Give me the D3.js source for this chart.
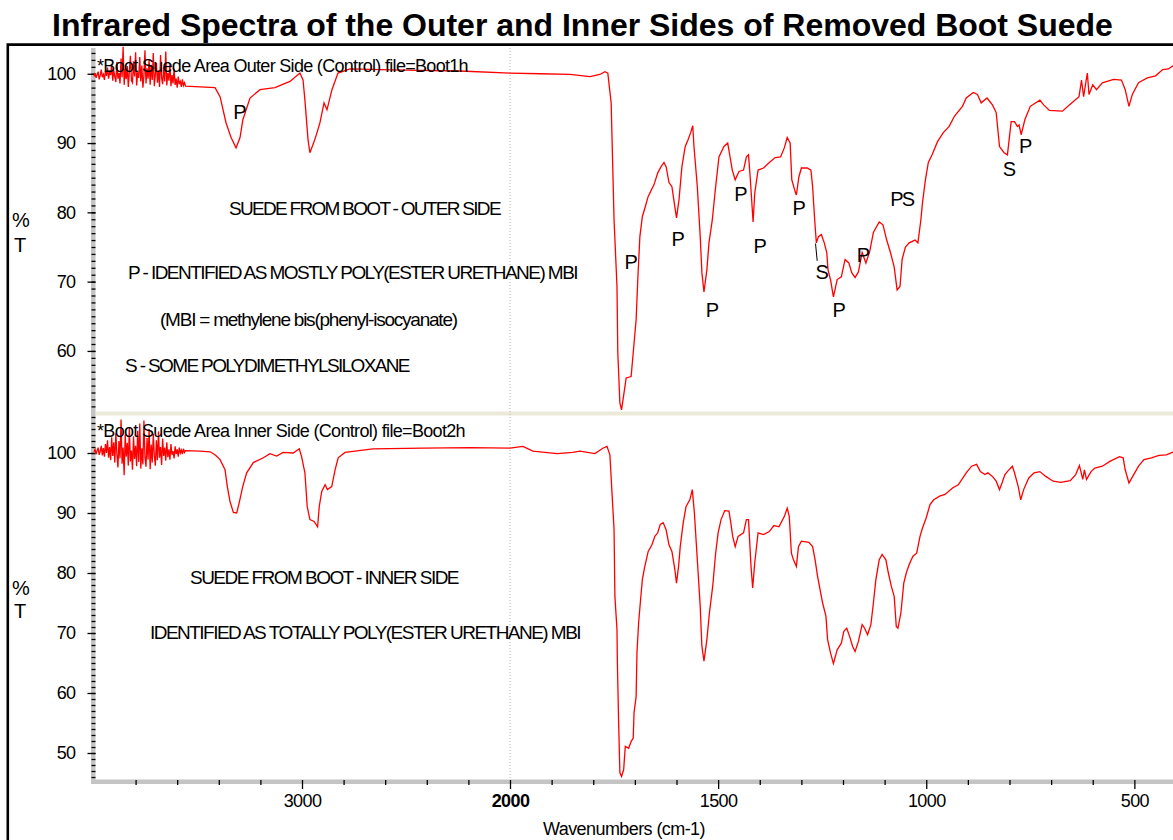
<!DOCTYPE html>
<html>
<head>
  <meta charset="utf-8" />
  <title>Infrared Spectra of Boot Suede</title>
  <script src="https://d3js.org/d3.v7.min.js"></script>
  <style>
    body { margin: 0; background: #fff; }
    svg { display: block; font-family: "Liberation Sans", Arial, sans-serif; }
    .axis path.domain { display: none; }
    .axis line { stroke: #000; stroke-width: 1.3; }
    .axis text { fill: #000; font-size: 18px; letter-spacing: -0.6px; }
  </style>
</head>
<body>
<script>
  // ---- data (wavenumbers in cm-1, %T) ----
  // noisy stretch at the high-wavenumber end, sampled every 5 cm-1
  const noiseWn = [4000, 3995, 3990, 3985, 3980, 3975, 3970, 3965, 3960, 3955,
    3950, 3945, 3940, 3935, 3930, 3925, 3920, 3915, 3910, 3905,
    3900, 3895, 3890, 3885, 3880, 3875, 3870, 3865, 3860, 3855,
    3850, 3845, 3840, 3835, 3830, 3825, 3820, 3815, 3810, 3805,
    3800, 3795, 3790, 3785, 3780, 3775, 3770, 3765, 3760, 3755,
    3750, 3745, 3740, 3735, 3730, 3725, 3720, 3715, 3710, 3705,
    3700, 3695, 3690, 3685, 3680, 3675, 3670, 3665, 3660, 3655,
    3650, 3645, 3640, 3635, 3630, 3625, 3620, 3615, 3610, 3605,
    3600, 3595, 3590, 3585, 3580, 3575, 3570, 3565, 3560];
  const outerNoiseT = [99.6, 100.1, 99.4, 99.9, 100.3, 99.2, 99.8, 100.6, 99.5, 99.9,
    99.1, 100.4, 99.7, 100.9, 99.3, 100.2, 99.8, 101.4, 99.0, 100.5,
    99.6, 98.8, 101.7, 99.3, 100.1, 98.6, 102.2, 99.5, 103.9, 98.4,
    100.7, 99.2, 101.1, 98.1, 100.4, 102.6, 99.0, 98.7, 101.8, 99.6,
    103.1, 98.3, 100.2, 99.4, 102.4, 98.9, 101.2, 98.0, 99.7, 103.4,
    98.6, 100.8, 99.3, 102.0, 98.4, 101.3, 99.1, 103.0, 98.2, 99.9,
    101.6, 98.7, 100.5, 98.1, 102.7, 99.4, 98.5, 101.0, 98.9, 103.2,
    98.3, 100.1, 99.0, 101.4, 98.2, 99.8, 98.6, 100.7, 98.4, 99.3,
    98.0, 99.6, 98.5, 98.9, 98.1, 99.2, 98.3, 98.7, 98.2];
  const innerNoiseT = [100.2, 100.6, 99.8, 100.4, 100.9, 99.7, 100.3, 101.2, 99.6, 100.8,
    99.4, 101.5, 100.0, 102.1, 99.2, 101.0, 98.8, 102.6, 99.5, 101.8,
    98.4, 103.3, 99.9, 97.6, 102.0, 99.1, 105.6, 98.2, 100.9, 96.3,
    103.1, 99.4, 101.7, 97.9, 104.3, 98.6, 100.4, 97.2, 102.8, 99.0,
    101.2, 97.8, 103.7, 98.5, 104.9, 97.4, 100.8, 98.1, 105.4, 99.3,
    97.7, 102.5, 98.9, 104.0, 97.3, 101.4, 98.4, 103.2, 99.6, 97.9,
    102.1, 98.8, 103.6, 99.2, 101.0, 98.0, 102.4, 99.5, 100.9, 98.7,
    101.8, 99.3, 100.6, 98.9, 101.5, 99.7, 100.3, 99.1, 101.1, 99.8,
    100.6, 99.4, 100.9, 100.0, 100.5, 99.8, 100.7, 100.1, 100.4];

  const outerWn = [3490, 3418, 3394, 3365, 3341, 3317, 3298, 3284, 3250, 3202,
    3130, 3058, 3010, 2995, 2986, 2971, 2962, 2947, 2933, 2914,
    2894, 2880, 2856, 2827, 2769, 2625, 2433, 2240, 2000, 1928,
    1856, 1808, 1784, 1772, 1765, 1757, 1750, 1743, 1741, 1736,
    1732, 1724, 1721, 1709, 1704, 1697, 1693, 1688, 1682, 1675,
    1668, 1654, 1645, 1637, 1630, 1625, 1618, 1611, 1604, 1600,
    1594, 1587, 1579, 1572, 1566, 1561, 1558, 1550, 1543, 1539,
    1534, 1527, 1522, 1514, 1506, 1498, 1486, 1477, 1473, 1466,
    1459, 1450, 1439, 1432, 1427, 1423, 1416, 1412, 1404, 1391,
    1377, 1363, 1350, 1341, 1334, 1327, 1323, 1315, 1312, 1306,
    1300, 1286, 1277, 1273, 1268, 1264, 1259, 1252, 1245, 1239,
    1236, 1230, 1223, 1214, 1204, 1195, 1186, 1179, 1171, 1163,
    1154, 1145, 1136, 1127, 1113, 1104, 1095, 1086, 1077, 1070,
    1063, 1058, 1050, 1041, 1027, 1020, 1013, 1009, 1002, 995,
    986, 973, 959, 945, 932, 913, 904, 887, 877, 868,
    854, 841, 832, 824, 813, 805, 796, 788, 781, 777,
    772, 763, 750, 727, 718, 704, 673, 650, 633, 627,
    622, 613, 609, 600, 591, 577, 550, 531, 522, 513,
    505, 490, 469, 449, 432, 418, 409, 400];
  const outerT = [98.1, 98.0, 96.7, 92.9, 90.8, 89.3, 90.8, 93.4, 96.5, 97.7,
    98.0, 98.9, 100.1, 99.1, 96.2, 90.5, 88.6, 89.8, 91.0, 92.9,
    95.8, 94.8, 97.7, 100.1, 100.7, 100.6, 100.5, 100.4, 100.1, 100.0,
    99.9, 99.6, 99.9, 100.3, 100.1, 95.8, 78.9, 69.3, 59.7, 52.5,
    51.5, 54.8, 56.1, 56.3, 59.7, 64.5, 70.3, 76.5, 79.4, 80.8,
    82.3, 84.0, 85.7, 86.6, 87.2, 86.6, 84.3, 83.7, 80.8, 79.2,
    81.8, 86.6, 89.5, 90.5, 91.5, 92.5, 89.5, 83.7, 76.5, 71.3,
    68.5, 71.7, 75.6, 78.9, 83.7, 88.0, 89.5, 90.0, 88.6, 86.1,
    84.7, 85.9, 86.1, 88.0, 88.3, 85.1, 78.6, 82.8, 86.1, 86.4,
    87.2, 87.9, 88.0, 89.3, 90.8, 90.0, 84.7, 83.0, 82.5, 85.1,
    86.4, 86.4, 86.1, 83.7, 78.9, 75.6, 76.5, 76.8, 75.6, 74.2,
    71.7, 70.3, 67.8, 70.3, 70.7, 73.2, 72.7, 71.3, 70.6, 71.4,
    74.2, 72.7, 74.3, 77.1, 78.6, 78.2, 76.0, 74.2, 72.1, 68.8,
    69.3, 73.2, 75.0, 75.6, 76.0, 75.6, 78.9, 81.4, 84.7, 87.2,
    88.3, 90.2, 91.5, 92.4, 93.9, 95.3, 96.5, 97.3, 97.0, 95.8,
    96.5, 95.5, 94.4, 89.5, 88.6, 88.3, 93.1, 93.1, 92.4, 92.6,
    91.2, 93.4, 95.3, 96.2, 95.5, 94.7, 94.6, 95.8, 96.7, 99.1,
    96.7, 100.1, 97.0, 98.4, 97.7, 98.7, 99.2, 99.1, 97.7, 95.3,
    97.0, 98.7, 99.4, 99.7, 100.6, 100.7, 101.1, 101.0];

  const innerWn = [3490, 3442, 3418, 3394, 3370, 3359, 3346, 3330, 3314, 3302,
    3285, 3266, 3234, 3186, 3154, 3122, 3091, 3042, 3013, 3002,
    2986, 2975, 2962, 2942, 2925, 2917, 2905, 2889, 2878, 2857,
    2841, 2826, 2793, 2659, 2418, 2192, 2000, 1969, 1945, 1887,
    1849, 1832, 1796, 1777, 1767, 1760, 1755, 1750, 1748, 1743,
    1742, 1739, 1736, 1732, 1727, 1723, 1715, 1709, 1704, 1702,
    1697, 1695, 1691, 1686, 1682, 1677, 1668, 1659, 1652, 1645,
    1639, 1632, 1625, 1618, 1611, 1604, 1600, 1595, 1591, 1584,
    1577, 1568, 1562, 1557, 1550, 1543, 1539, 1534, 1527, 1521,
    1513, 1506, 1500, 1493, 1484, 1474, 1470, 1465, 1459, 1452,
    1439, 1432, 1427, 1421, 1417, 1412, 1404, 1391, 1377, 1366,
    1354, 1341, 1334, 1329, 1324, 1319, 1312, 1307, 1300, 1282,
    1273, 1267, 1261, 1255, 1249, 1241, 1237, 1230, 1223, 1214,
    1204, 1198, 1191, 1184, 1177, 1171, 1163, 1154, 1148, 1141,
    1133, 1127, 1121, 1113, 1106, 1097, 1091, 1084, 1077, 1072,
    1068, 1061, 1054, 1048, 1041, 1032, 1023, 1015, 1009, 1000,
    991, 982, 968, 955, 936, 923, 904, 891, 879, 870,
    859, 852, 841, 832, 824, 818, 811, 800, 793, 788,
    779, 773, 766, 754, 741, 727, 713, 695, 677, 654,
    641, 632, 624, 620, 615, 604, 595, 577, 559, 536,
    527, 522, 513, 504, 490, 477, 459, 441, 423, 409,
    400];
  const innerT = [100.3, 100.2, 99.7, 98.9, 97.2, 94.4, 91.9, 90.1, 90.0, 91.7,
    94.4, 96.7, 98.4, 99.2, 99.9, 99.5, 100.1, 100.0, 100.7, 99.4,
    96.7, 91.1, 88.9, 88.6, 87.7, 91.1, 93.6, 94.7, 93.9, 94.4,
    97.2, 99.2, 100.1, 100.7, 100.8, 100.9, 100.8, 101.1, 100.3, 99.9,
    100.1, 100.3, 99.9, 100.8, 101.1, 99.7, 93.4, 87.2, 76.1, 70.6,
    65.0, 55.0, 46.7, 46.1, 47.2, 51.1, 50.8, 51.9, 52.5, 56.7,
    59.4, 66.7, 71.7, 75.8, 78.9, 80.8, 83.6, 84.7, 86.1, 86.7,
    88.1, 88.4, 87.2, 84.7, 83.6, 80.6, 78.3, 81.1, 84.4, 88.3,
    91.1, 92.2, 93.9, 90.0, 82.2, 74.4, 67.8, 65.3, 68.9, 73.3,
    77.8, 83.3, 86.7, 88.9, 90.4, 90.3, 88.6, 86.1, 84.4, 86.1,
    86.7, 88.9, 88.9, 81.1, 77.5, 81.7, 86.7, 86.4, 86.9, 87.9,
    87.7, 89.4, 90.8, 89.4, 83.3, 82.2, 81.1, 84.4, 85.3, 85.1,
    84.4, 82.2, 79.4, 77.2, 75.0, 72.8, 68.9, 66.7, 64.9, 67.2,
    68.3, 70.3, 70.8, 69.4, 67.8, 66.9, 68.6, 71.4, 70.8, 69.7,
    71.4, 75.0, 78.9, 82.2, 83.1, 82.2, 80.0, 77.8, 76.1, 71.1,
    70.8, 73.3, 78.3, 80.0, 81.4, 82.8, 83.3, 86.1, 87.5, 89.2,
    91.4, 92.2, 92.8, 93.1, 94.2, 94.7, 96.7, 97.8, 98.1, 96.9,
    96.4, 96.7, 96.1, 95.3, 93.9, 95.0, 96.4, 97.3, 97.8, 96.7,
    94.4, 92.2, 93.9, 95.8, 96.7, 96.9, 96.1, 95.3, 95.1, 95.4,
    96.4, 97.9, 95.6, 97.2, 95.6, 96.9, 97.5, 97.8, 98.6, 99.4,
    99.2, 97.2, 95.0, 96.1, 97.8, 98.9, 99.2, 99.6, 99.7, 100.1,
    100.2];

  // peak assignments on the outer-side spectrum (label centre, in wn / %T)
  const peakText = ["P", "P", "P", "P", "P", "P", "P", "S", "P", "P", "PS", "S", "P"];
  const peakWn = [3298, 1709, 1596, 1514, 1445, 1399, 1305, 1250, 1209, 1151, 1059, 800, 761];
  const peakT = [94.5, 72.9, 76.2, 65.9, 82.7, 75.2, 80.7, 71.4, 65.9, 73.9, 82.0, 86.3, 89.6];

  const xMajorTicks = [3000, 2000, 1500, 1000, 500];
  const xMinorTicks = [3800, 3600, 3400, 3200, 2800, 2600, 2400, 2200,
    1900, 1800, 1700, 1600, 1400, 1300, 1200, 1100, 900, 800, 700, 600, 400];
  const yTicksOuter = [60, 70, 80, 90, 100];
  const yTicksInner = [50, 60, 70, 80, 90, 100];

  const title = "Infrared Spectra of the Outer and Inner Sides of Removed Boot Suede";
  const outerHeader = "*Boot Suede Area Outer Side (Control) file=Boot1h";
  const innerHeader = "*Boot Suede Area Inner Side (Control) file=Boot2h";
  const outerNotes = [
    "SUEDE FROM BOOT - OUTER SIDE",
    "P - IDENTIFIED AS MOSTLY POLY(ESTER URETHANE) MBI",
    "(MBI = methylene bis(phenyl-isocyanate)",
    "S - SOME POLYDIMETHYLSILOXANE"
  ];
  const innerNotes = [
    "SUEDE FROM BOOT - INNER SIDE",
    "IDENTIFIED AS TOTALLY POLY(ESTER URETHANE) MBI"
  ];

  // ---- layout ----
  const width = 1173, height = 840;
  const axisX = 95.5;

  const x = d3.scaleLinear().domain([4000, 2000, 400]).range([94, 510, 1176]);
  const yOuter = d3.scaleLinear().domain([51, 103.5]).range([413.3, 49.5]);
  const yInner = d3.scaleLinear().domain([45.5, 106.2]).range([780, 415.8]);

  const svg = d3.select("body").append("svg")
    .attr("width", width).attr("height", height);

  // squeeze a text to a given width with letter spacing (the original is set very tight)
  function fit(sel, target) {
    const node = sel.node();
    const w = node.getComputedTextLength();
    const n = node.textContent.length;
    sel.attr("letter-spacing", ((target - w) / n).toFixed(2));
    return sel;
  }

  // frame
  svg.append("path")
    .attr("d", "M7.8,860V44.6H1200")
    .attr("fill", "none").attr("stroke", "#000").attr("stroke-width", 2.6);

  fit(svg.append("text")
    .attr("x", 52).attr("y", 36)
    .attr("font-size", 32).attr("font-weight", "bold")
    .text(title), 1061);

  // panel separator and 2000 gridline
  svg.append("rect").attr("x", axisX).attr("y", 411.5)
    .attr("width", 1100).attr("height", 4).attr("fill", "#ece9d8");
  svg.append("line")
    .attr("x1", x(2000)).attr("x2", x(2000)).attr("y1", 48).attr("y2", 780)
    .attr("stroke", "#b0b0b0").attr("stroke-dasharray", "1,2");

  // gray axis bars
  svg.append("rect").attr("x", 91).attr("y", 48).attr("width", 4.5).attr("height", 736)
    .attr("fill", "#c4c4c4");
  svg.append("rect").attr("x", 91).attr("y", 779.5).attr("width", 1100).attr("height", 4.5)
    .attr("fill", "#c4c4c4");

  function yAxes(scale, lo, hi, majors) {
    svg.append("g").attr("class", "axis")
      .attr("transform", `translate(${axisX},0)`)
      .call(d3.axisLeft(scale).tickValues(d3.range(lo, hi)).tickSize(4).tickFormat(""));
    svg.append("g").attr("class", "axis")
      .attr("transform", `translate(${axisX},0)`)
      .call(d3.axisLeft(scale).tickValues(majors).tickSize(8).tickPadding(12));
  }
  yAxes(yOuter, 52, 104, yTicksOuter);
  yAxes(yInner, 46, 107, yTicksInner);

  svg.append("g").attr("class", "axis")
    .attr("transform", "translate(0,780)")
    .call(d3.axisBottom(x).tickValues(xMinorTicks).tickSize(5).tickFormat(""));
  const xAx = svg.append("g").attr("class", "axis")
    .attr("transform", "translate(0,780)")
    .call(d3.axisBottom(x).tickValues(xMajorTicks).tickSize(9).tickPadding(5).tickFormat(d3.format("d")));
  xAx.selectAll("text").filter(d => d === 2000).attr("font-weight", "bold");

  fit(svg.append("text").attr("x", 543).attr("y", 835)
    .attr("font-size", 18).text("Wavenumbers (cm-1)"), 162);

  // %T labels
  [[227, 252], [595, 618]].forEach(([a, b]) => {
    svg.append("text").attr("x", 12).attr("y", a).attr("font-size", 20).text("%");
    svg.append("text").attr("x", 14).attr("y", b).attr("font-size", 20).text("T");
  });

  // spectra
  const outerData = noiseWn.map((w, i) => ({ wn: w, t: outerNoiseT[i] }))
    .concat(outerWn.map((w, i) => ({ wn: w, t: outerT[i] })));
  const innerData = noiseWn.map((w, i) => ({ wn: w, t: innerNoiseT[i] }))
    .concat(innerWn.map((w, i) => ({ wn: w, t: innerT[i] })));

  svg.append("path").datum(outerData)
    .attr("fill", "none").attr("stroke", "#ff0000").attr("stroke-width", 1.3)
    .attr("d", d3.line().x(d => x(d.wn)).y(d => yOuter(d.t)));
  svg.append("path").datum(innerData)
    .attr("fill", "none").attr("stroke", "#ff0000").attr("stroke-width", 1.3)
    .attr("d", d3.line().x(d => x(d.wn)).y(d => yInner(d.t)));

  // headers and notes
  const note = (str, px, py, len, size) =>
    fit(svg.append("text").attr("x", px).attr("y", py).attr("font-size", size).text(str), len);

  note(outerHeader, 97, 72, 371, 18);
  note(innerHeader, 97, 437, 368, 18);
  note(outerNotes[0], 229, 215, 271, 19);
  note(outerNotes[1], 128, 279, 449, 19);
  note(outerNotes[2], 160, 326, 297, 19);
  note(outerNotes[3], 125, 372, 284, 19);
  note(innerNotes[0], 190, 584, 268, 19);
  note(innerNotes[1], 150, 639, 430, 19);

  // peak labels
  svg.append("g").selectAll("text")
    .data(peakText)
    .join("text")
    .attr("x", (d, i) => x(peakWn[i]))
    .attr("y", (d, i) => yOuter(peakT[i]))
    .attr("dy", "0.36em")
    .attr("text-anchor", "middle")
    .attr("font-size", 20)
    .attr("letter-spacing", d => d.length > 1 ? -2 : 0)
    .text(d => d);

  // pointer line for the S assignment
  svg.append("line")
    .attr("x1", x(1266)).attr("y1", yOuter(75.5))
    .attr("x2", x(1262)).attr("y2", yOuter(73.0))
    .attr("stroke", "#000").attr("stroke-width", 1);
</script>
</body>
</html>
